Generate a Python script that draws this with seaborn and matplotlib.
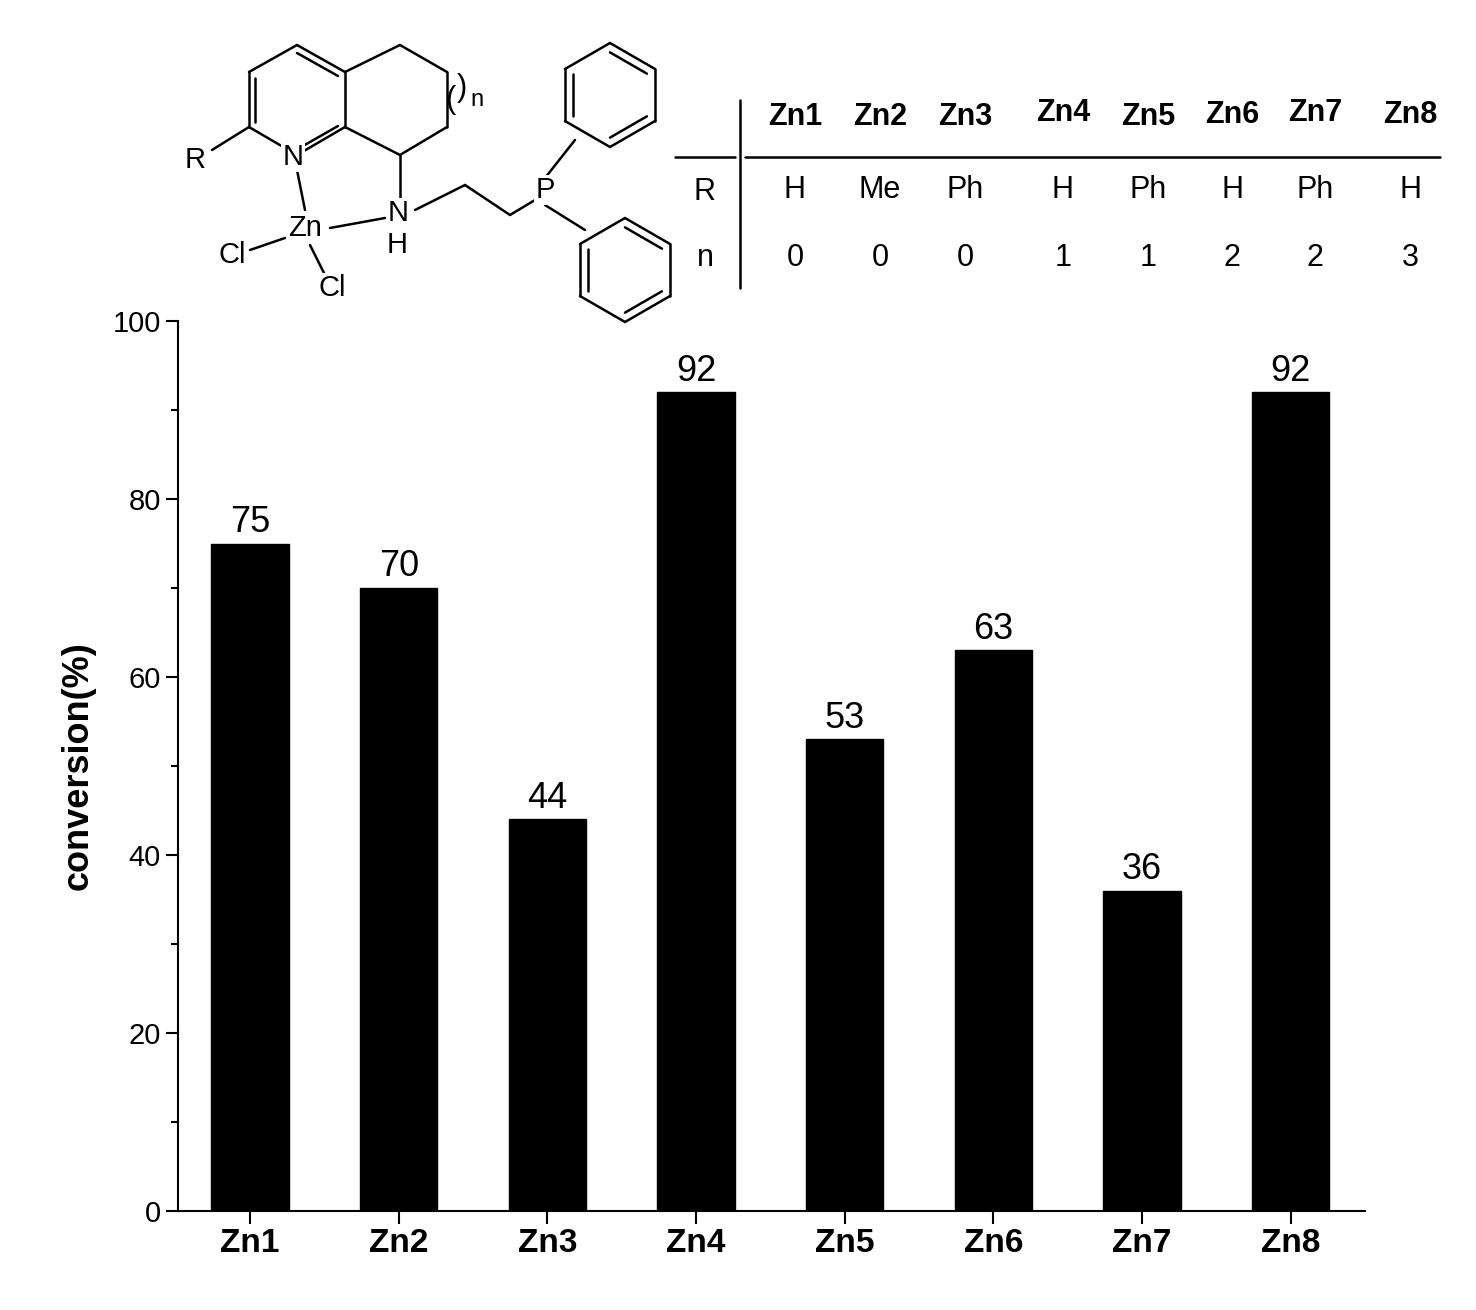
import numpy as np
import pandas as pd
import seaborn as sns
import matplotlib.pyplot as plt

# data
complexes = ['Zn1', 'Zn2', 'Zn3', 'Zn4', 'Zn5', 'Zn6', 'Zn7', 'Zn8']
conversion = [75, 70, 44, 92, 53, 63, 36, 92]
r_groups = ['H', 'Me', 'Ph', 'H', 'Ph', 'H', 'Ph', 'H']
n_values = ['0', '0', '0', '1', '1', '2', '2', '3']

sns.set_style('ticks')
plt.rcParams['font.family'] = ['Liberation Sans', 'DejaVu Sans']
plt.rcParams['text.color'] = 'black'
plt.rcParams['axes.labelcolor'] = 'black'
plt.rcParams['xtick.color'] = 'black'
plt.rcParams['ytick.color'] = 'black'

fig = plt.figure(figsize=(14.76, 13.1), dpi=100)
ax = fig.add_axes([178/1476, 99/1310, (1365-178)/1476, (1211-321)/1310])

df = pd.DataFrame({'complex': complexes, 'conversion': conversion})
sns.barplot(data=df, x='complex', y='conversion', color='black', width=0.52,
            saturation=1, edgecolor='black', ax=ax)
for i, v in enumerate(conversion):
    ax.text(i, v + 0.4, str(v), ha='center', va='bottom', fontsize=26)

ax.set_xlim(-0.485, 7.5)
ax.set_ylim(0, 100)
ax.set_yticks(range(0, 101, 20))
ax.set_yticks(range(10, 100, 20), minor=True)
ax.tick_params(axis='both', which='major', direction='out', length=9, width=1.5, labelsize=21)
ax.tick_params(axis='y', which='minor', direction='out', length=5, width=1.5)
ax.tick_params(axis='x', labelsize=24)
for lab in ax.get_xticklabels():
    lab.set_fontweight('bold')
ax.set_xlabel('')
ax.set_ylabel('conversion(%)', fontsize=26, fontweight='bold', labelpad=12)
sns.despine(ax=ax)
for s in ['left', 'bottom']:
    ax.spines[s].set_linewidth(1.5)
    ax.spines[s].set_color('black')

# overlay for structure + table, in pixel coordinates
ov = fig.add_axes([0, 0, 1, 1])
ov.set_xlim(0, 1476)
ov.set_ylim(1310, 0)
ov.axis('off')
ov.patch.set_alpha(0)

def bond(p, q, lw=1.8):
    ov.plot([p[0], q[0]], [p[1], q[1]], color='black', lw=lw)

def lbl(x, y, s, fs=21):
    ov.text(x, y, s, ha='center', va='center', fontsize=fs,
            bbox=dict(facecolor='white', edgecolor='none', pad=1))

# pyridine ring
py = [(297, 45), (345, 72), (345, 127), (297, 155), (249, 127), (249, 72)]
for i in range(6):
    bond(py[i], py[(i + 1) % 6])
bond((255, 78), (255, 122))
bond((297, 53), (338, 76))
bond((303, 146), (338, 126))
# saturated ring
sat = [(345, 72), (400, 45), (447, 72), (447, 127), (400, 155), (345, 127)]
for i in range(5):
    bond(sat[i], sat[i + 1])
ov.text(450, 100, '(', fontsize=22, ha='center', va='center')
ov.text(462, 88, ')', fontsize=22, ha='center', va='center')
ov.text(477, 100, 'n', fontsize=17, ha='center', va='center')
bond((249, 127), (212, 150))
bond((297, 170), (305, 210))
bond((400, 155), (400, 200))
bond((415, 210), (465, 185))
bond((465, 185), (510, 215))
bond((510, 215), (535, 200))
bond((330, 228), (385, 218))
bond((285, 238), (250, 250))
bond((310, 245), (325, 275))
# phenyls
for cx, cy in [(610, 95), (625, 270)]:
    ang = np.radians(np.arange(0, 360, 60) + 30)
    pts = [(cx + 52 * np.cos(a), cy + 52 * np.sin(a)) for a in ang]
    for i in range(6):
        bond(pts[i], pts[(i + 1) % 6])
    for i in (0, 2, 4):
        a, b = pts[i], pts[(i + 1) % 6]
        bond((cx + 0.82 * (a[0] - cx), cy + 0.82 * (a[1] - cy)),
             (cx + 0.82 * (b[0] - cx), cy + 0.82 * (b[1] - cy)))
bond((545, 178), (575, 140))
bond((545, 205), (585, 230))
lbl(195, 160, 'R')
lbl(293, 157, 'N')
lbl(305, 228, 'Zn')
lbl(398, 213, 'N')
lbl(397, 245, 'H')
lbl(545, 190, 'P')
lbl(232, 255, 'Cl')
lbl(332, 288, 'Cl')

# table
ov.plot([740, 740], [100, 288], color='black', lw=1.8)
ov.plot([675, 735], [157, 157], color='black', lw=1.8)
ov.plot([745, 1440], [157, 157], color='black', lw=1.8)
xs = [795, 880, 965, 1063, 1148, 1232, 1315, 1410]
ys = [117, 117, 117, 113, 117, 115, 113, 115]
for x, y, c, r, n in zip(xs, ys, complexes, r_groups, n_values):
    ov.text(x, y, c, ha='center', va='center', fontsize=22, fontweight='bold')
    ov.text(x, 190, r, ha='center', va='center', fontsize=22)
    ov.text(x, 258, n, ha='center', va='center', fontsize=22)
ov.text(705, 192, 'R', ha='center', va='center', fontsize=22)
ov.text(705, 258, 'n', ha='center', va='center', fontsize=22)

fig.savefig('out.png', dpi=100)
